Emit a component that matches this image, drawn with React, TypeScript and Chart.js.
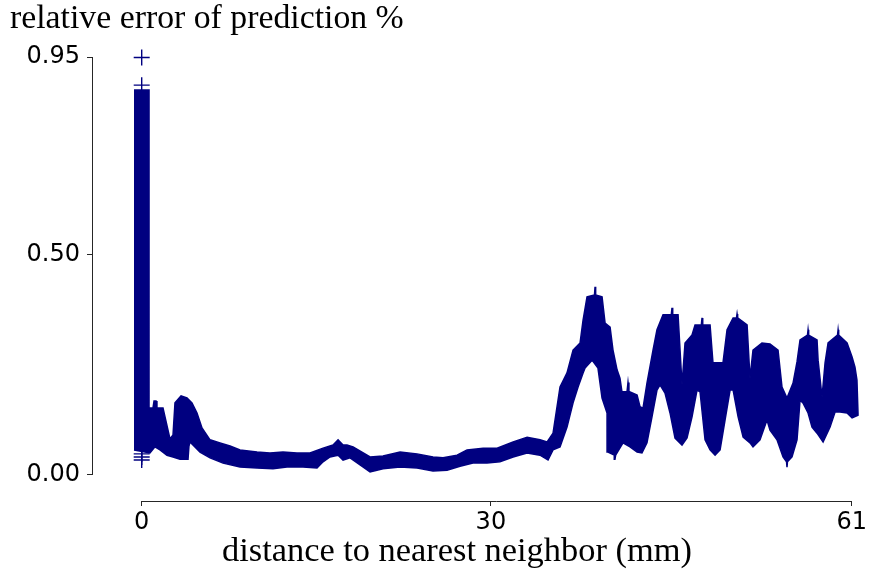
import React, { useEffect, useRef } from "react";
import { Chart, registerables } from "chart.js";

Chart.register(...registerables);

const NAVY = "#000080";
const AXIS_COLOR = "#262626";

const TITLE = "relative error of prediction %";
const X_LABEL = "distance to nearest neighbor (mm)";

const xTicks = [0, 30, 61];
const yTicks = [0, 0.5, 0.95];

// upper edge of the dense band of "+" markers (left -> right)
const upperEdge: [number, number][] = [
  [-0.66, 0.875], [0.63, 0.875], [0.63, 0.152], [0.97, 0.152], [1.06, 0.168], [1.23, 0.168],
  [1.31, 0.152], [1.83, 0.152], [2.43, 0.082], [2.69, 0.091], [2.86, 0.164], [3.38, 0.18],
  [3.89, 0.175], [4.32, 0.164], [4.75, 0.141], [5.18, 0.107], [5.87, 0.08], [6.73, 0.073],
  [7.59, 0.066], [8.45, 0.057], [9.91, 0.052], [11.02, 0.05], [12.14, 0.052], [13.34, 0.05],
  [14.46, 0.05], [15.58, 0.061], [16.44, 0.068], [16.87, 0.08], [17.3, 0.068], [17.64, 0.068],
  [18.16, 0.064], [19.62, 0.041], [20.73, 0.043], [22.2, 0.052], [23.66, 0.048], [25.03, 0.041],
  [25.89, 0.039], [27.09, 0.045], [27.95, 0.057], [29.33, 0.061], [30.53, 0.061], [31.91, 0.075],
  [33.11, 0.086], [34.22, 0.08], [34.83, 0.075], [35.34, 0.095], [35.94, 0.2], [36.54, 0.232],
  [37.06, 0.284], [37.66, 0.3], [37.92, 0.352], [38.26, 0.405], [38.9, 0.409], [38.95, 0.428],
  [39.0, 0.409], [39.55, 0.405], [39.81, 0.345], [40.24, 0.336], [40.49, 0.284], [40.84, 0.239],
  [41.09, 0.22], [41.26, 0.189], [41.7, 0.19], [41.78, 0.21], [41.86, 0.19], [42.56, 0.182],
  [42.81, 0.155], [43.07, 0.152], [43.41, 0.209], [43.93, 0.284], [44.27, 0.33], [44.79, 0.364],
  [45.5, 0.364], [45.56, 0.38], [45.62, 0.364], [46.08, 0.364], [46.42, 0.205], [46.68, 0.3],
  [47.28, 0.318], [47.54, 0.341], [48.08, 0.341], [48.14, 0.357], [48.2, 0.341], [48.83, 0.341],
  [49.08, 0.255], [49.94, 0.255], [50.29, 0.33], [50.81, 0.357], [51.1, 0.357], [51.15, 0.366],
  [51.2, 0.357], [52.01, 0.341], [52.26, 0.22], [52.52, 0.284], [53.29, 0.3], [53.98, 0.298],
  [54.67, 0.284], [55.01, 0.2], [55.44, 0.175], [55.96, 0.209], [56.3, 0.257], [56.56, 0.307],
  [57.2, 0.318], [57.25, 0.33], [57.3, 0.318], [58.02, 0.307], [58.11, 0.261], [58.45, 0.177],
  [58.71, 0.255], [58.97, 0.3], [59.78, 0.318], [59.83, 0.33], [59.88, 0.318], [60.6, 0.3],
  [61.03, 0.268], [61.28, 0.245], [61.45, 0.216], [61.54, 0.141],
];

// lower edge of the band (left -> right)
const lowerEdge: [number, number][] = [
  [-0.66, 0.057], [0.71, 0.05], [1.14, 0.064], [1.57, 0.057], [2.17, 0.045], [2.69, 0.041],
  [3.29, 0.036], [3.98, 0.036], [4.06, 0.066], [4.15, 0.075], [5.01, 0.052], [5.87, 0.039],
  [6.99, 0.027], [8.45, 0.018], [9.91, 0.016], [11.28, 0.014], [12.48, 0.018], [13.86, 0.018],
  [15.06, 0.016], [15.58, 0.03], [16.18, 0.041], [16.87, 0.045], [17.3, 0.034], [17.9, 0.039],
  [18.76, 0.023], [19.62, 0.007], [20.73, 0.014], [22.2, 0.018], [23.66, 0.016], [25.03, 0.009],
  [26.23, 0.011], [27.35, 0.02], [28.46, 0.027], [29.67, 0.027], [30.78, 0.03], [31.91, 0.041],
  [33.11, 0.05], [34.22, 0.045], [34.91, 0.034], [35.34, 0.057], [35.94, 0.064], [36.54, 0.109],
  [37.06, 0.164], [37.49, 0.2], [37.92, 0.232], [38.09, 0.243], [38.69, 0.261], [39.2, 0.243],
  [39.55, 0.175], [39.98, 0.141], [40.06, 0.052], [40.6, 0.045], [40.66, 0.036], [40.72, 0.045],
  [41.35, 0.073], [41.95, 0.064], [42.56, 0.052], [42.98, 0.05], [43.41, 0.073], [43.84, 0.132],
  [44.27, 0.193], [44.53, 0.205], [44.96, 0.186], [45.39, 0.141], [45.82, 0.084], [46.42, 0.068],
  [46.85, 0.084], [47.28, 0.132], [47.71, 0.193], [47.97, 0.189], [48.4, 0.08], [48.83, 0.057],
  [49.26, 0.045], [49.69, 0.057], [50.12, 0.125], [50.55, 0.193], [50.81, 0.193], [51.24, 0.132],
  [51.67, 0.086], [52.26, 0.073], [52.52, 0.064], [53.12, 0.08], [53.72, 0.125], [53.98, 0.102],
  [54.58, 0.08], [55.1, 0.041], [55.4, 0.03], [55.44, 0.018], [55.48, 0.03], [55.87, 0.041],
  [56.3, 0.08], [56.56, 0.17], [56.81, 0.164], [57.25, 0.141], [57.59, 0.109], [58.02, 0.095],
  [58.54, 0.075], [59.14, 0.109], [59.57, 0.143], [60.0, 0.143], [60.6, 0.141], [61.03, 0.13],
  [61.54, 0.136],
];

// isolated "+" markers that stand out from the band
const outliers: [number, number][] = [
  [0, 0.949], [0, 0.886], [0, 0.048], [0, 0.041], [0, 0.034],
];

function fitFontSize(ctx: CanvasRenderingContext2D, text: string, width: number, family: string) {
  ctx.font = `100px ${family}`;
  const w = ctx.measureText(text).width || 1;
  return (100 * width) / w;
}

const decorPlugin = {
  id: "decor",
  afterDraw(chart: any) {
    const { ctx, chartArea, scales } = chart;
    const xs = scales.x;
    const ys = scales.y;
    ctx.save();
    ctx.strokeStyle = AXIS_COLOR;
    ctx.lineWidth = 1;
    // trimmed bottom spine
    const by = Math.round(chartArea.bottom) + 0.5;
    ctx.beginPath();
    ctx.moveTo(xs.getPixelForValue(xTicks[0]), by);
    ctx.lineTo(xs.getPixelForValue(xTicks[xTicks.length - 1]), by);
    ctx.stroke();
    // trimmed left spine
    const lx = Math.round(chartArea.left) + 0.5;
    ctx.beginPath();
    ctx.moveTo(lx, ys.getPixelForValue(yTicks[0]));
    ctx.lineTo(lx, ys.getPixelForValue(yTicks[yTicks.length - 1]));
    ctx.stroke();

    const serif = '"Liberation Serif", "DejaVu Serif", serif';
    ctx.fillStyle = "#000";
    ctx.textBaseline = "alphabetic";
    ctx.textAlign = "left";
    let s = fitFontSize(ctx, TITLE, 394, serif);
    ctx.font = `${s}px ${serif}`;
    ctx.fillText(TITLE, 10, 28);
    s = fitFontSize(ctx, X_LABEL, 470, serif);
    ctx.font = `${s}px ${serif}`;
    ctx.fillText(X_LABEL, 222, 561);
    ctx.restore();
  },
};

export default function App() {
  const ref = useRef<HTMLCanvasElement | null>(null);

  useEffect(() => {
    const canvas = ref.current;
    if (!canvas) return;
    const polygon = [...upperEdge, ...lowerEdge.slice().reverse()].map(([x, y]) => ({ x, y }));
    const tickFont = { family: '"DejaVu Sans"', size: 24 };
    const chart = new Chart(canvas, {
      type: "line",
      data: {
        datasets: [
          {
            data: polygon,
            borderColor: NAVY,
            backgroundColor: NAVY,
            borderWidth: 1.5,
            pointRadius: 0,
            fill: "shape",
            tension: 0,
            clip: false,
          } as any,
          {
            type: "scatter",
            data: outliers.map(([x, y]) => ({ x, y })),
            pointStyle: "cross",
            pointRadius: 8,
            borderColor: NAVY,
            backgroundColor: NAVY,
            borderWidth: 1.4,
            showLine: false,
            clip: false,
          } as any,
        ],
      },
      options: {
        animation: false,
        responsive: false,
        devicePixelRatio: 1,
        events: [],
        layout: { padding: { top: 57, right: 10.3, bottom: 0, left: 0 } },
        plugins: {
          legend: { display: false },
          tooltip: { enabled: false },
          title: { display: false },
        },
        scales: {
          x: {
            type: "linear",
            min: -4.27,
            max: 61.6,
            afterBuildTicks: (s: any) => {
              s.ticks = xTicks.map((v) => ({ value: v }));
            },
            afterFit: (s: any) => {
              s.height = 70;
              s.paddingLeft = 0;
              s.paddingRight = 0;
            },
            grid: { display: true, drawOnChartArea: false, drawTicks: true, tickLength: 5, color: AXIS_COLOR, lineWidth: 1 },
            border: { display: false },
            ticks: {
              autoSkip: false,
              maxRotation: 0,
              minRotation: 0,
              padding: 2,
              color: "#000",
              font: tickFont,
              callback: (v: any) => String(v),
            },
          },
          y: {
            type: "linear",
            min: -0.0591,
            max: 0.95,
            afterBuildTicks: (s: any) => {
              s.ticks = yTicks.map((v) => ({ value: v }));
            },
            afterFit: (s: any) => {
              s.width = 92;
              s.paddingTop = 0;
              s.paddingBottom = 0;
            },
            grid: { display: true, drawOnChartArea: false, drawTicks: true, tickLength: 5, color: AXIS_COLOR, lineWidth: 1 },
            border: { display: false },
            ticks: {
              autoSkip: false,
              padding: 7,
              color: "#000",
              font: tickFont,
              callback: (v: any) => Number(v).toFixed(2),
            },
          },
        },
      } as any,
      plugins: [decorPlugin],
    });
    return () => chart.destroy();
  }, []);

  return (
    <div style={{ position: "absolute", left: 0, top: 0, width: 869, height: 571, background: "#fff" }}>
      <canvas ref={ref} width={869} height={571} style={{ display: "block" }} />
    </div>
  );
}
